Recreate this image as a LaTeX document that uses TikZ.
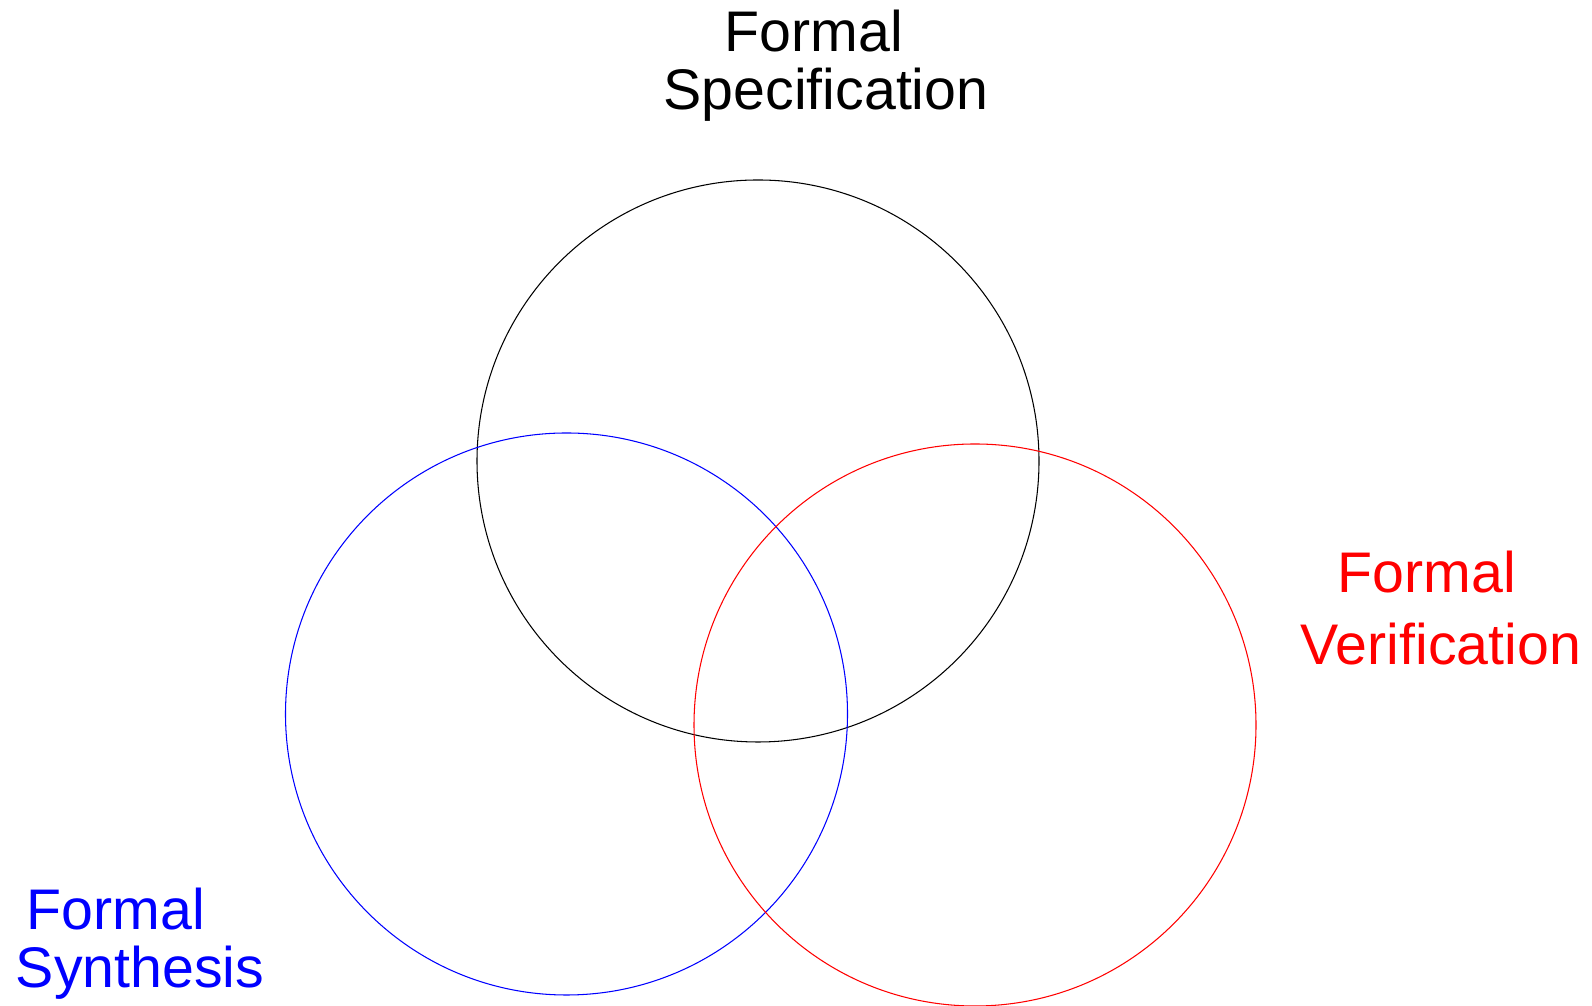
\documentclass[tikz,border=0pt]{standalone}
\usepackage{fontspec}
\setmainfont{Liberation Sans}

\begin{document}
\begin{tikzpicture}[x=0.02cm, y=0.02cm,
    area/.style={line width=0.6pt},
    title/.style={align=center, font=\fontsize{32.6}{33.2}\selectfont}]
  \useasboundingbox (0,0) rectangle (1592,1006);
  \draw[area, black] (758,545) circle (281);
  \draw[area, blue] (566.5,292) circle (281);
  \draw[area, red] (975,281) circle (281);
  \node[title, black] (spec) at (826,940) {Formal\hspace*{0.42em}\\Specification};
  \node[title, red, font=\fontsize{32.6}{40.8}\selectfont] (verif) at (1441,398) {Formal\hspace*{0.5em}\\Verification};
  \node[title, blue] (synth) at (140,62) {Formal\hspace*{0.85em}\\Synthesis};
\end{tikzpicture}
\end{document}
